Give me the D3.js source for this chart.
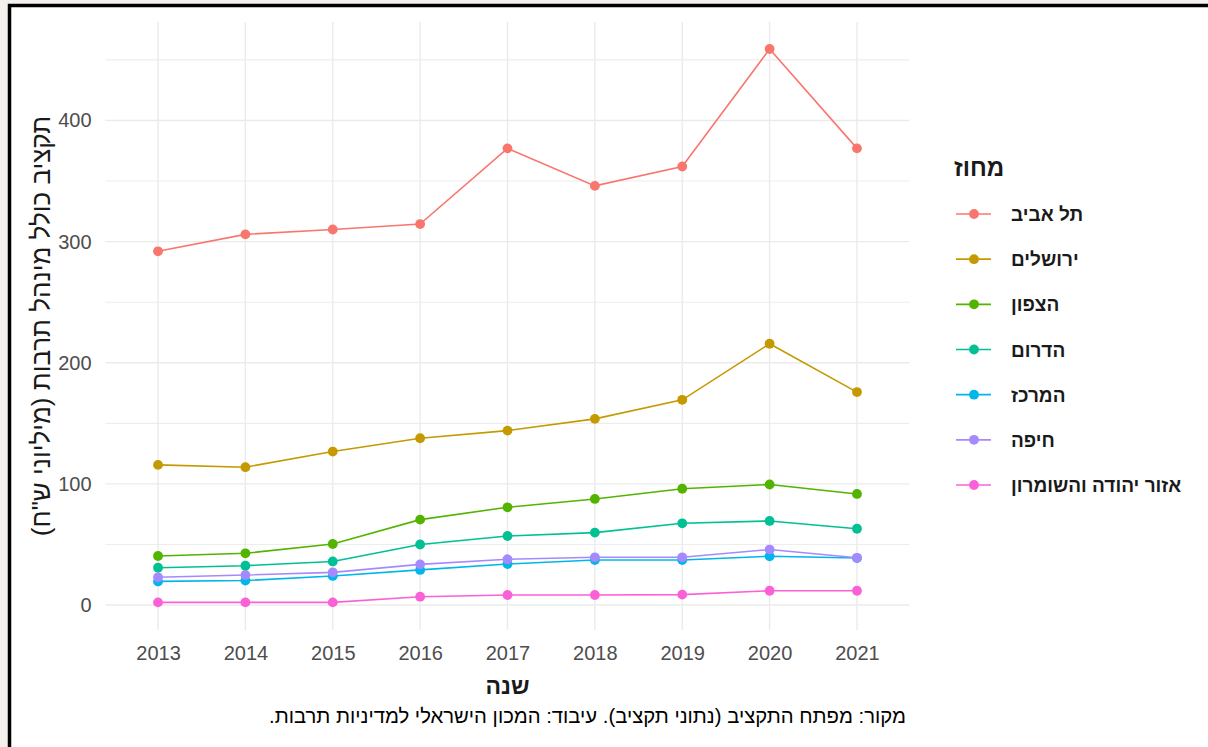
<!DOCTYPE html>
<html>
<head>
<meta charset="utf-8">
<script src="https://cdn.jsdelivr.net/npm/d3@7"></script>
<style>
  html, body { margin: 0; padding: 0; background: #f4f1ed; }
  svg { display: block; }
</style>
</head>
<body>
<svg id="chart" width="1208" height="747"></svg>
<script>
const years = [2013, 2014, 2015, 2016, 2017, 2018, 2019, 2020, 2021];
const districts = ["תל אביב", "ירושלים", "הצפון", "הדרום", "המרכז", "חיפה", "אזור יהודה והשומרון"];
const colors = ["#F8766D", "#C49A00", "#53B400", "#00C094", "#00B6EB", "#A58AFF", "#FB61D7"];
const telAviv   = [292, 306, 310, 314.5, 377, 346, 362, 459, 377];
const jerusalem = [115.7, 113.8, 126.7, 137.7, 144, 153.7, 169.4, 215.7, 175.8];
const north     = [40.5, 42.7, 50.4, 70.5, 80.7, 87.6, 96, 99.5, 91.7];
const south     = [30.8, 32.5, 36, 50, 57, 59.8, 67.5, 69.4, 63];
const center    = [19.5, 20.2, 24, 29, 33.9, 37.2, 37.2, 40.3, 38.8];
const haifa     = [22.9, 24.8, 27, 33.6, 37.8, 39.4, 39.4, 45.8, 39];
const judea     = [2.2, 2.2, 2.2, 6.9, 8.3, 8.3, 8.6, 11.8, 11.8];
const seriesValues = [telAviv, jerusalem, north, south, center, haifa, judea];
const yMajorTicks = [0, 100, 200, 300, 400];
const yMinorTicks = [50, 150, 250, 350, 450];
const xTitle = "שנה";
const yTitle = "תקציב כולל מינהל תרבות (מיליוני ש\"ח)";
const legendTitle = "מחוז";
const caption = "מקור: מפתח התקציב (נתוני תקציב). עיבוד: המכון הישראלי למדיניות תרבות.";

const FONT = "'Liberation Sans', Arial, sans-serif";
const svg = d3.select("#chart");

// white card with black frame
svg.append("rect").attr("x", 9.5).attr("y", 5.5).attr("width", 1210).attr("height", 760)
  .attr("fill", "#ffffff").attr("stroke", "#000").attr("stroke-width", 3.5);

const panel = { left: 105.6, right: 909.4, top: 22, bottom: 630 };

const x = d3.scalePoint().domain(years).range([panel.left, panel.right]).padding(0.6);
const y = d3.scaleLinear().domain([-20.6, 481.3]).range([panel.bottom, panel.top]);

// grid
const grid = svg.append("g");
grid.selectAll("line.minor").data(yMinorTicks).enter().append("line")
  .attr("x1", panel.left).attr("x2", panel.right)
  .attr("y1", d => y(d)).attr("y2", d => y(d))
  .attr("stroke", "#ededed").attr("stroke-width", 1.1);
grid.selectAll("line.major").data(yMajorTicks).enter().append("line")
  .attr("x1", panel.left).attr("x2", panel.right)
  .attr("y1", d => y(d)).attr("y2", d => y(d))
  .attr("stroke", "#ebebeb").attr("stroke-width", 1.4);
grid.selectAll("line.vx").data(years).enter().append("line")
  .attr("x1", d => x(d)).attr("x2", d => x(d))
  .attr("y1", panel.top).attr("y2", panel.bottom)
  .attr("stroke", "#ebebeb").attr("stroke-width", 1.4);

// axes (text only, ggplot minimal style)
const xAxis = svg.append("g").attr("transform", `translate(0,${panel.bottom})`)
  .call(d3.axisBottom(x).tickSize(0).tickPadding(16));
xAxis.select(".domain").remove();
xAxis.selectAll("text").attr("font-family", FONT).attr("font-size", 20).attr("fill", "#4d4d4d");

const yAxis = svg.append("g").attr("transform", `translate(${panel.left},0)`)
  .call(d3.axisLeft(y).tickValues(yMajorTicks).tickSize(0).tickPadding(14));
yAxis.select(".domain").remove();
yAxis.selectAll("text").attr("font-family", FONT).attr("font-size", 20).attr("fill", "#4d4d4d");

// lines then points
const line = d3.line().x((d, i) => x(years[i])).y(d => y(d));
const lines = svg.append("g");
seriesValues.forEach((vals, k) => {
  lines.append("path").datum(vals).attr("d", line)
    .attr("fill", "none").attr("stroke", colors[k]).attr("stroke-width", 1.6);
});
const pts = svg.append("g");
seriesValues.forEach((vals, k) => {
  pts.selectAll(null).data(vals).enter().append("circle")
    .attr("cx", (d, i) => x(years[i])).attr("cy", d => y(d))
    .attr("r", 4.9).attr("fill", colors[k]);
});

// titles
svg.append("text").attr("x", (panel.left + panel.right) / 2).attr("y", 694)
  .attr("text-anchor", "middle").attr("font-family", FONT).attr("font-size", 23)
  .attr("font-weight", "bold").attr("fill", "#1a1a1a").text(xTitle);

svg.append("text")
  .attr("transform", `translate(50,${(panel.top + panel.bottom) / 2}) rotate(-90)`)
  .attr("direction", "rtl").attr("text-anchor", "middle")
  .attr("font-family", FONT).attr("font-size", 26).attr("fill", "#1a1a1a").text(yTitle);

svg.append("text").attr("x", 906).attr("y", 723)
  .attr("direction", "rtl").attr("text-anchor", "start")
  .attr("font-family", FONT).attr("font-size", 20.3).attr("fill", "#000").text(caption);

// legend
const legend = svg.append("g");
legend.append("text").attr("x", 954).attr("y", 176)
  .attr("font-family", FONT).attr("font-size", 24).attr("font-weight", "bold")
  .attr("fill", "#1a1a1a").text(legendTitle);
const rowY = d3.scaleLinear().domain([0, 6]).range([214, 485]);
districts.forEach((name, k) => {
  const g = legend.append("g").attr("transform", `translate(0,${rowY(k)})`);
  g.append("line").attr("x1", 956).attr("x2", 991).attr("y1", 0).attr("y2", 0)
    .attr("stroke", colors[k]).attr("stroke-width", 1.6);
  g.append("circle").attr("cx", 974).attr("cy", 0).attr("r", 4.9).attr("fill", colors[k]);
  g.append("text").attr("x", 1011).attr("y", 7)
    .attr("font-family", FONT).attr("font-size", 19).attr("font-weight", "bold")
    .attr("fill", "#1a1a1a").text(name);
});
</script>
</body>
</html>
